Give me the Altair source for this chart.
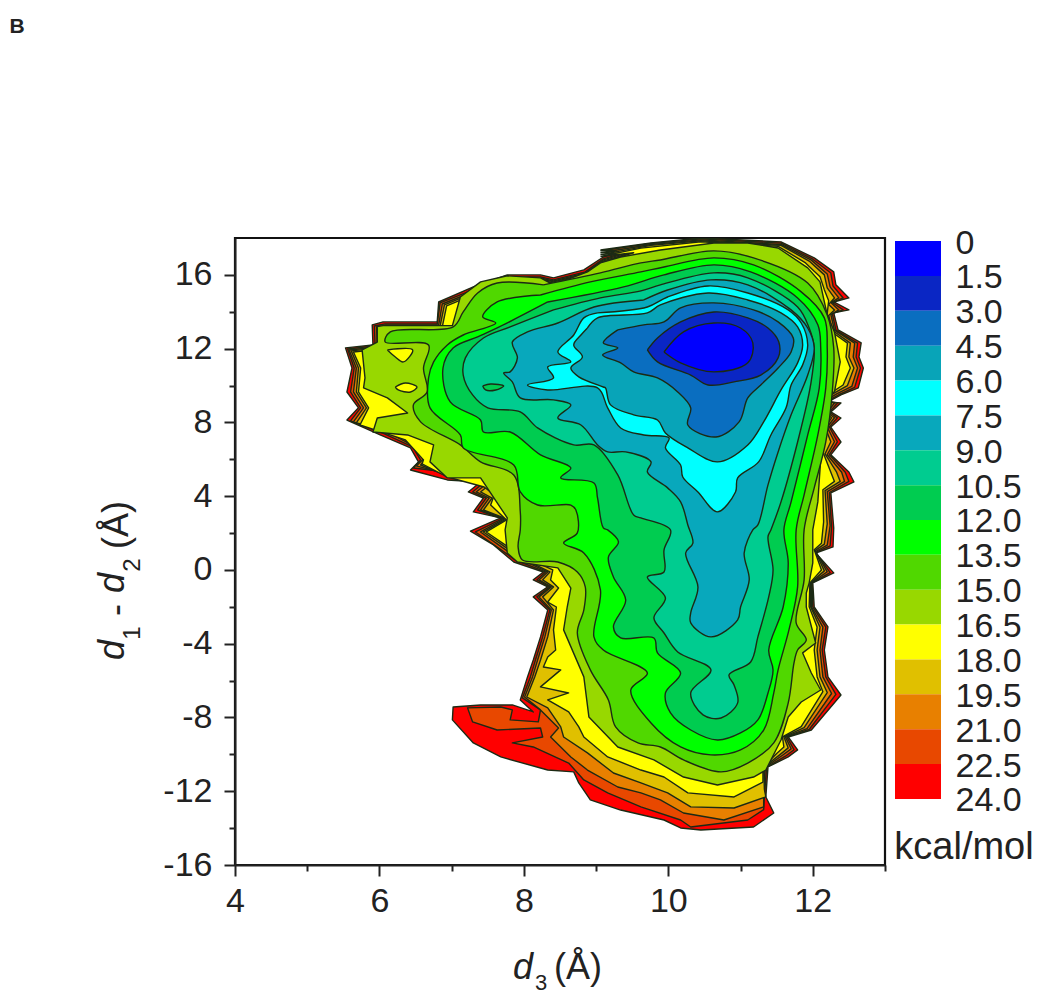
import altair as alt
import pandas as pd

FONT = "Liberation Sans"
INK = "#222222"
LINE = "#1c2a14"

# energy contours: each is the closed outline of the region below that level (d3, d1-d2)
C24 = [(9.06,17.35),(9.76,17.73),(10.45,18.0),(11.56,17.79),(12.02,16.92),(12.29,16.16),(12.32,15.46),(12.50,14.75),(12.29,14.53),(12.50,14.10),(12.29,13.94),(12.35,13.02),(12.67,12.31),(12.64,11.55),(12.70,10.95),(12.63,9.87),(12.39,9.49),(12.21,9.11),(12.39,9.06),(12.25,8.57),(12.39,8.24),(12.25,7.75),(12.39,6.94),(12.25,6.24),(12.50,5.31),(12.57,4.77),(12.25,4.18),(12.29,2.28),(12.28,1.25),(12.04,0.92),(12.29,-0.16),(12.00,-0.70),(12.02,-2.01),(12.21,-3.09),(12.16,-4.34),(12.21,-5.80),(12.39,-6.78),(11.98,-8.68),(11.66,-9.06),(11.79,-9.76),(11.66,-10.14),(11.38,-10.68),(11.35,-12.31),(11.46,-13.18),(11.18,-13.94),(10.45,-14.10),(10.17,-13.99),(9.94,-13.56),(9.34,-13.02),(8.92,-12.47),(8.76,-11.55),(8.69,-10.95),(8.33,-10.85),(7.68,-10.14),(7.30,-9.38),(7.01,-8.13),(7.02,-7.43),(7.40,-7.32),(7.84,-7.32),(8.13,-7.70),(7.95,-7.05),(8.05,-5.80),(8.13,-4.88),(8.23,-3.63),(8.33,-2.17),(8.13,-1.46),(8.33,-0.92),(8.13,-0.54),(8.27,-0.11),(7.86,0.43),(7.58,1.36),(7.26,2.11),(7.68,2.82),(7.30,3.15),(7.44,3.90),(7.23,4.23),(7.40,4.77),(6.94,4.88),(6.43,5.42),(6.54,5.86),(6.43,6.62),(6.01,7.32),(5.55,8.13),(5.71,8.79),(5.55,9.65),(5.62,10.95),(5.53,12.04),(5.91,12.20),(5.90,13.29),(6.05,13.45),(6.80,13.45),(6.82,14.53),(7.30,15.35),(7.77,16.0),(8.23,16.0),(8.41,15.84),(8.83,16.27),(9.10,16.97),(9.52,17.46)]
C22_5 = [(9.06,17.30),(9.76,17.7),(10.45,17.95),(11.56,17.72),(12.0,16.85),(12.25,16.1),(12.28,15.4),(12.42,14.75),(12.27,14.5),(12.42,14.1),(12.27,13.9),(12.32,13.0),(12.62,12.3),(12.60,11.55),(12.66,10.95),(12.58,9.9),(12.36,9.5),(12.2,9.15),(12.34,9.05),(12.23,8.55),(12.34,8.25),(12.23,7.75),(12.34,6.95),(12.23,6.25),(12.45,5.3),(12.5,4.8),(12.23,4.2),(12.26,2.3),(12.24,1.3),(12.04,0.95),(12.24,-0.15),(11.99,-0.7),(12.0,-2.0),(12.18,-3.1),(12.13,-4.34),(12.18,-5.8),(12.32,-6.75),(11.95,-8.65),(11.64,-9.05),(11.74,-9.75),(11.62,-10.1),(11.36,-10.7),(11.33,-12.3),(11.32,-13.0),(11.10,-13.56),(10.31,-13.94),(10.17,-13.56),(9.62,-12.85),(9.16,-12.09),(8.83,-11.39),(8.62,-10.47),(8.13,-9.6),(7.84,-9.38),(8.26,-9.06),(8.23,-8.57),(7.63,-8.68),(7.29,-8.24),(7.22,-7.48),(7.68,-7.43),(7.84,-7.59),(7.81,-8.13),(8.20,-8.24),(8.23,-7.59),(7.98,-6.94),(8.09,-5.8),(8.16,-4.88),(8.26,-3.63),(8.36,-2.17),(8.18,-1.46),(8.36,-0.92),(8.18,-0.54),(8.30,-0.11),(7.88,0.54),(7.61,1.3),(7.33,2.06),(7.70,2.77),(7.36,3.25),(7.48,3.9),(7.29,4.23),(7.44,4.72),(6.94,5.31),(6.47,5.53),(6.57,5.97),(6.46,6.67),(6.04,7.43),(5.60,8.08),(5.74,8.79),(5.60,9.65),(5.65,10.95),(5.56,11.98),(5.94,12.15),(5.93,13.23),(6.08,13.34),(6.80,13.34),(6.84,14.48),(7.33,15.24),(7.77,15.89),(8.23,15.89),(8.41,15.73),(8.85,16.16),(9.10,16.87),(9.52,17.35)]
C21 = [(9.06,17.2),(9.76,17.65),(10.45,17.9),(11.56,17.65),(11.98,16.8),(12.2,16.05),(12.24,15.35),(12.36,14.75),(12.25,14.5),(12.36,14.1),(12.25,13.85),(12.3,13.0),(12.58,12.3),(12.56,11.55),(12.62,10.95),(12.54,9.95),(12.33,9.55),(12.18,9.2),(12.3,9.05),(12.2,8.55),(12.3,8.25),(12.2,7.75),(12.3,6.95),(12.2,6.25),(12.4,5.3),(12.44,4.8),(12.2,4.25),(12.24,2.4),(12.2,1.35),(12.04,1.0),(12.2,-0.1),(11.98,-0.7),(11.98,-2.0),(12.14,-3.1),(12.1,-4.34),(12.14,-5.8),(12.26,-6.7),(11.92,-8.6),(11.62,-9.05),(11.7,-9.7),(11.58,-10.05),(11.34,-10.7),(11.32,-12.2),(11.32,-12.85),(10.77,-13.56),(10.21,-13.18),(9.89,-12.47),(9.62,-12.09),(9.30,-11.77),(8.88,-10.85),(8.65,-10.14),(8.37,-9.06),(8.48,-8.57),(8.23,-7.59),(8.01,-6.89),(8.12,-5.8),(8.19,-4.88),(8.29,-3.63),(8.38,-2.17),(8.21,-1.46),(8.38,-0.92),(8.21,-0.54),(8.33,-0.11),(7.91,0.65),(7.65,1.36),(7.40,2.06),(7.73,2.77),(7.40,3.25),(7.52,3.9),(7.34,4.23),(7.48,4.66),(6.94,5.2),(6.51,5.64),(6.61,6.02),(6.48,6.72),(6.08,7.54),(5.64,8.03),(5.78,8.79),(5.64,9.65),(5.68,10.95),(5.58,11.93),(5.97,12.09),(5.96,13.18),(6.11,13.29),(6.82,13.29),(6.87,14.42),(7.36,15.18),(7.77,15.84),(8.23,15.84),(8.41,15.67),(8.85,16.11),(9.10,16.81),(9.52,17.3)]
C19_5 = [(9.06,17.1),(9.76,17.6),(10.45,17.85),(11.56,17.6),(11.95,16.75),(12.16,16.0),(12.2,15.3),(12.3,14.75),(12.22,14.4),(12.3,14.1),(12.22,13.8),(12.27,13.0),(12.52,12.3),(12.5,11.55),(12.57,10.95),(12.48,10.0),(12.3,9.6),(12.16,9.25),(12.26,9.05),(12.16,8.55),(12.26,8.25),(12.17,7.75),(12.25,6.95),(12.17,6.3),(12.33,5.3),(12.38,4.8),(12.17,4.3),(12.2,2.5),(12.16,1.4),(12.03,1.05),(12.16,-0.05),(11.97,-0.7),(11.97,-2.0),(12.1,-3.1),(12.06,-4.34),(12.1,-5.8),(12.2,-6.65),(11.88,-8.55),(11.6,-9.05),(11.66,-9.65),(11.55,-10.0),(11.32,-10.7),(11.33,-11.9),(11.35,-12.31),(10.91,-12.91),(10.31,-12.85),(9.99,-12.09),(9.62,-11.55),(9.24,-11.01),(8.88,-9.92),(8.55,-9.06),(8.51,-8.51),(8.33,-7.48),(8.04,-6.89),(8.15,-5.8),(8.23,-4.88),(8.33,-3.63),(8.41,-2.17),(8.26,-1.46),(8.41,-0.92),(8.26,-0.54),(8.36,-0.11),(7.94,0.7),(7.68,1.41),(7.44,2.06),(7.76,2.77),(7.44,3.25),(7.56,3.9),(7.40,4.23),(7.52,4.61),(6.94,5.1),(6.57,5.69),(6.65,6.07),(6.51,6.78),(6.12,7.59),(5.68,7.97),(5.82,8.79),(5.68,9.65),(5.71,10.95),(5.61,11.88),(6.0,12.04),(5.98,13.12),(6.14,13.23),(6.84,13.23),(6.90,14.37),(7.37,15.13),(7.77,15.78),(8.23,15.78),(8.41,15.62),(8.85,16.05),(9.10,16.76),(9.52,17.24)]
C18 = [(9.06,17.0),(9.62,17.45),(10.45,17.8),(11.52,17.55),(11.9,16.65),(12.1,15.9),(12.16,15.2),(12.22,14.6),(12.2,13.9),(12.23,13.0),(12.48,12.3),(12.46,11.55),(12.52,10.95),(12.42,10.03),(12.27,9.65),(12.14,9.3),(12.14,8.3),(12.14,7.3),(12.14,6.4),(12.25,5.3),(12.3,4.8),(12.14,4.35),(12.15,2.6),(12.12,1.45),(12.02,1.1),(12.12,0.0),(11.96,-0.7),(11.95,-2.0),(12.06,-3.1),(12.02,-4.34),(12.06,-5.8),(12.14,-6.6),(11.84,-8.5),(11.58,-9.05),(11.6,-9.6),(11.5,-9.95),(11.31,-10.7),(11.31,-11.5),(10.91,-12.31),(10.27,-12.09),(9.94,-11.23),(9.62,-10.85),(9.16,-10.14),(8.83,-9.06),(8.76,-8.51),(8.62,-7.7),(8.33,-7.05),(8.62,-6.67),(8.23,-6.34),(8.51,-5.42),(8.27,-5.26),(8.33,-4.72),(8.44,-4.34),(8.41,-3.25),(8.45,-2.01),(8.33,-1.74),(8.48,-0.98),(8.37,-0.54),(8.40,0),(7.98,0.76),(7.72,1.41),(7.48,2.06),(7.76,2.71),(7.54,3.52),(7.59,4.07),(7.45,4.5),(6.94,5.04),(6.59,5.75),(6.61,5.97),(6.36,7.05),(5.73,7.86),(5.85,8.79),(5.71,9.65),(5.74,10.95),(5.64,11.82),(6.02,11.98),(6.01,13.07),(6.16,13.18),(6.87,13.18),(6.93,14.32),(7.40,15.08),(7.77,15.73),(8.23,15.73),(8.41,15.56),(8.85,16.0),(9.10,16.7),(9.52,17.2)]
C16_5 = [(9.06,16.65),(9.34,16.97),(9.89,17.35),(10.63,17.73),(11.10,17.73),(11.52,17.46),(11.93,16.38),(12.10,15.62),(12.20,13.83),(12.30,12.91),(12.38,11.28),(12.30,9.65),(12.12,9.33),(12.12,6.62),(12.07,3.69),(12.00,2.17),(12.00,0.38),(11.95,-0.70),(11.91,-1.25),(11.91,-2.01),(12.04,-3.96),(11.86,-4.50),(11.98,-5.59),(12.11,-6.51),(11.84,-7.16),(11.66,-7.97),(11.56,-9.22),(11.35,-10.85),(11.18,-11.23),(10.68,-11.66),(10.21,-11.23),(9.80,-10.30),(9.30,-9.60),(8.90,-7.97),(8.83,-5.80),(8.55,-3.25),(8.60,-2.01),(8.65,-0.98),(8.47,0.11),(7.91,0.43),(7.77,0.92),(7.74,2.17),(7.77,2.82),(7.40,4.99),(6.94,4.99),(6.70,5.86),(6.75,6.78),(6.39,7.32),(5.91,7.48),(5.97,8.24),(6.39,8.51),(6.11,9.33),(5.78,9.87),(5.80,10.41),(5.76,11.93),(5.97,12.36),(5.97,13.2),(6.05,13.25),(7.01,13.25),(7.12,14.80),(7.40,15.62),(7.77,15.95),(8.23,15.84),(8.41,15.46),(8.88,16.16)]
C15 = [(8.27,15.46),(9.06,16.11),(9.62,16.65),(9.89,16.81),(10.63,17.30),(11.18,16.92),(11.93,15.56),(12.20,13.83),(12.29,12.04),(12.27,9.65),(12.18,6.94),(12.02,4.45),(11.88,2.17),(11.88,-0.54),(11.77,-2.87),(11.91,-3.80),(11.79,-4.34),(11.74,-5.04),(11.66,-7.21),(11.46,-9.38),(11.10,-10.47),(10.73,-10.95),(10.21,-10.30),(9.89,-9.60),(9.58,-9.38),(9.27,-8.51),(9.17,-7.05),(8.92,-5.42),(8.74,-3.42),(8.83,-2.17),(8.85,-0.92),(8.74,-0.11),(8.47,0.43),(7.98,0.54),(7.92,1.25),(7.95,2.17),(7.95,3.15),(7.86,5.15),(7.40,5.86),(7.12,6.78),(6.57,8.03),(6.47,8.95),(6.66,9.65),(6.61,10.95),(6.68,12.20),(6.08,12.36),(6.15,12.91),(7.02,13.18),(7.16,13.99),(7.36,15.02),(7.63,15.56)]
C13_5 = [(8.23,14.91),(8.92,15.62),(9.62,16.16),(9.94,16.43),(10.63,16.92),(11.18,16.54),(11.84,15.08),(12.16,13.67),(12.20,12.04),(12.18,9.87),(12.07,7.32),(11.88,4.07),(11.77,2.17),(11.79,-0.92),(11.67,-3.25),(11.52,-5.42),(11.46,-6.67),(11.32,-8.68),(11.00,-9.76),(10.59,-10.03),(10.17,-9.60),(9.76,-8.30),(9.48,-6.51),(9.71,-5.59),(9.10,-4.34),(8.97,-3.63),(9.06,-1.08),(8.83,0.92),(8.55,1.46),(8.74,2.01),(8.72,3.25),(8.65,3.52),(8.19,3.52),(7.95,4.23),(7.86,5.69),(7.16,6.62),(7.12,7.32),(6.70,8.79),(6.68,10.41),(6.75,11.28),(6.94,12.20),(7.16,12.74),(7.61,13.39),(7.43,13.72),(7.63,14.53)]
C12 = [(8.33,14.53),(9.38,15.35),(9.94,16.0),(10.63,16.54),(11.14,16.16),(11.79,14.75),(12.07,13.29),(12.11,12.04),(12.09,9.87),(11.93,7.32),(11.70,3.69),(11.60,2.17),(11.66,0.38),(11.59,-2.01),(11.39,-4.34),(11.45,-5.42),(11.38,-6.67),(11.24,-8.13),(11.00,-8.84),(10.68,-9.22),(10.31,-8.68),(10.03,-7.75),(9.96,-6.67),(10.17,-5.59),(9.85,-4.50),(9.80,-3.69),(9.34,-3.69),(9.24,-3.09),(9.41,-1.63),(9.24,-0.38),(9.17,0.70),(9.31,1.52),(9.16,2.17),(9.10,2.28),(9.02,3.90),(8.97,4.72),(8.51,4.99),(8.65,5.53),(8.23,6.24),(7.81,7.48),(7.44,7.48),(7.40,8.13),(6.98,9.11),(6.88,10.95),(7.02,12.04),(7.36,12.64),(7.63,13.12)]
C10_5 = [(8.41,14.10),(9.06,14.75),(9.62,15.13),(9.89,15.46),(10.63,16.11),(11.10,15.84),(11.79,14.26),(11.95,13.12),(12.02,12.04),(11.97,10.03),(11.79,6.94),(11.56,3.69),(11.42,2.17),(11.38,1.79),(11.45,0),(11.39,-1.46),(11.24,-3.63),(11.14,-4.99),(10.84,-5.69),(10.91,-6.24),(10.96,-7.21),(10.73,-8.03),(10.48,-7.86),(10.31,-6.67),(10.59,-5.42),(10.13,-4.45),(9.94,-3.42),(9.80,-2.60),(9.96,-1.52),(9.71,-0.38),(9.94,-0.11),(9.94,1.08),(10.03,2.17),(9.62,2.82),(9.52,2.98),(9.30,5.15),(8.97,6.78),(8.69,6.78),(8.19,7.70),(7.95,8.57),(7.50,8.79),(7.29,9.49),(7.16,10.57),(7.19,11.50),(7.44,12.58),(7.81,13.18)]
C9 = [(9.66,14.64),(9.99,15.18),(10.59,15.73),(11.10,15.46),(11.70,14.10),(11.93,13.12),(12.02,12.04),(11.93,10.57),(11.70,8.41),(11.52,6.40),(11.38,4.61),(11.24,2.44),(11.17,2.17),(11.05,0.92),(11.12,-0.54),(11.00,-2.01),(10.96,-2.71),(10.59,-3.63),(10.31,-2.87),(10.31,-2.33),(10.41,-0.92),(10.24,0.92),(10.34,1.46),(10.27,2.44),(10.17,3.69),(9.99,4.45),(9.71,5.31),(9.76,5.86),(9.41,6.40),(9.16,6.40),(9.02,6.78),(8.79,7.86),(8.47,8.24),(8.65,8.95),(8.41,9.22),(7.95,9.33),(7.84,10.20),(7.72,10.68),(7.81,10.74),(7.91,11.50),(7.84,12.36),(8.05,12.91),(8.47,13.39),(8.97,14.26)]
C7_5 = [(9.02,13.94),(9.71,14.26),(9.99,14.80),(10.55,15.40),(11.10,15.02),(11.66,14.10),(11.84,13.39),(11.93,12.20),(11.86,11.12),(11.70,10.03),(11.63,8.79),(11.42,7.32),(11.25,5.86),(10.96,4.99),(10.93,4.23),(10.68,3.15),(10.41,4.23),(10.20,5.04),(10.17,5.69),(9.96,6.62),(10.01,7.16),(9.66,7.32),(9.34,7.70),(9.16,8.79),(9.02,9.87),(8.33,9.76),(8.05,10.03),(8.41,10.41),(8.33,11.01),(8.65,11.28),(8.47,11.82),(8.69,12.74),(8.83,13.67)]
C6 = [(8.88,13.12),(9.02,13.67),(9.71,13.94),(9.89,14.37),(10.55,15.02),(11.10,14.64),(11.56,13.94),(11.79,13.18),(11.86,12.20),(11.79,11.23),(11.56,9.76),(11.32,8.03),(11.10,6.78),(10.68,5.86),(10.27,6.62),(9.96,7.43),(9.85,8.13),(9.52,8.41),(9.20,8.95),(9.13,9.87),(9.10,9.92),(8.76,10.47),(8.65,10.95),(8.81,11.55),(8.69,12.20),(8.79,12.74)]
C4_5 = [(9.30,13.02),(9.66,13.29),(9.94,13.45),(10.17,14.21),(10.63,14.48),(11.18,14.10),(11.52,13.45),(11.73,12.58),(11.70,11.82),(11.52,10.95),(11.28,10.03),(11.10,9.33),(10.98,8.03),(10.66,7.21),(10.27,7.86),(10.31,8.79),(10.13,9.65),(9.85,10.41),(9.52,10.74),(9.34,11.23),(9.09,11.66),(9.30,12.04),(9.10,12.31)]
C3 = [(9.71,11.93),(9.85,12.58),(10.17,13.45),(10.63,13.99),(11.10,13.67),(11.38,13.12),(11.53,12.36),(11.52,11.50),(11.28,10.57),(10.91,10.20),(10.55,10.03),(10.31,10.57),(9.85,11.28)]
C1_5 = [(9.94,11.82),(10.21,12.91),(10.63,13.39),(11.0,13.12),(11.17,12.31),(11.10,11.23),(10.63,10.74),(10.17,11.23)]

# small closed islands inside the bands
ISLAND_A = [(6.11,11.93),(6.46,11.93),(6.33,11.28),(6.22,11.55)]
ISLAND_B = [(6.22,9.92),(6.36,10.14),(6.52,9.92),(6.43,9.65),(6.26,9.76)]
ISLAND_C = [(7.43,9.98),(7.54,10.08),(7.72,9.98),(7.61,9.76),(7.47,9.76)]

LEVELS = [0, 1.5, 3, 4.5, 6, 7.5, 9, 10.5, 12, 13.5, 15, 16.5, 18, 19.5, 21, 22.5, 24]
BAND_COLORS = ["#0000ff", "#0a26c4", "#0a6ec0", "#08a4b8", "#00ffff", "#08a8bc", "#00cc90", "#00cc50",
               "#00ff00", "#50d800", "#98d800", "#ffff00", "#e0c000", "#e88000", "#e84800", "#ff0000"]

# (outline, band colour, smooth the outline?)
CONTOURS = [(C24, 15, False), (C22_5, 14, False), (C21, 13, False), (C19_5, 12, False), (C18, 11, False), (C16_5, 10, False),
            (ISLAND_A, 11, True), (ISLAND_B, 11, True), (C15, 9, True), (C13_5, 8, True), (C12, 7, True), (C10_5, 6, True),
            (ISLAND_C, 7, True), (C9, 5, True), (C7_5, 4, True), (C6, 3, True), (C4_5, 2, True), (C3, 1, True), (C1_5, 0, True)]

x_scale = alt.Scale(domain=[4, 13], nice=False, zero=False)
y_scale = alt.Scale(domain=[-16, 18], nice=False, zero=False)
legend_scale = alt.Scale(domain=[-0.13, 26.84], nice=False, zero=False, reverse=True)

x_axis = alt.Axis(values=list(range(4, 14)), title=None, grid=False, labelFont=FONT, labelFontSize=34, labelColor=INK,
                  labelExpr="datum.value % 2 === 0 && datum.value < 13 ? datum.label : ''", labelPadding=8, labelFlush=False,
                  tickSize={"condition": {"test": "datum.value % 2 === 0", "value": 11}, "value": 6},
                  tickWidth=2, tickColor=INK, domainColor=INK, domainWidth=2, labelOverlap=False)
y_axis = alt.Axis(values=list(range(-16, 18, 2)), title=None, grid=False, labelFont=FONT, labelFontSize=34, labelColor=INK,
                  labelExpr="datum.value % 4 === 0 ? replace(datum.label, '\u2212', '-') : ''", labelPadding=12, labelFlush=False,
                  tickSize={"condition": {"test": "datum.value % 4 === 0", "value": 11}, "value": 6},
                  tickWidth=2, tickColor=INK, domainColor=INK, domainWidth=2, labelOverlap=False)


def polygon(points, colour, smooth):
    closed = list(points) + [points[0]]
    df = pd.DataFrame({"d3": [p[0] for p in closed], "dd": [p[1] for p in closed], "i": list(range(len(closed)))})
    return alt.Chart(df).mark_line(fill=colour, stroke=LINE, strokeWidth=1.4, clip=True, strokeJoin="round",
                                   interpolate="catmull-rom" if smooth else "linear").encode(
        x=alt.X("d3:Q", scale=x_scale, axis=x_axis),
        y=alt.Y("dd:Q", scale=y_scale, axis=y_axis),
        order=alt.Order("i:Q"),
    )


map_layer = alt.layer(*[polygon(pts, BAND_COLORS[c], s) for pts, c, s in CONTOURS])

bands = pd.DataFrame({"lo": LEVELS[:-1], "hi": LEVELS[1:], "colour": BAND_COLORS})
legend_axis = alt.Axis(orient="right", values=LEVELS, title=None, grid=False, domain=False, ticks=False, labelFont=FONT,
                       labelFontSize=34, labelColor=INK, labelPadding=70, labelFlush=False, labelOverlap=False, labelOffset=2,
                       labelExpr="datum.value === 0 ? '0' : format(datum.value, '.1f')")
legend_layer = alt.Chart(bands).mark_rect().encode(
    x=alt.value(660), x2=alt.value(706),
    y=alt.Y("lo:Q", scale=legend_scale, axis=legend_axis),
    y2="hi:Q",
    color=alt.Color("colour:N", scale=None),
)

anchor = pd.DataFrame({"a": [0]})


def label(text, px, py, size=36, angle=0, style="normal", weight="normal"):
    return alt.Chart(anchor).mark_text(text=text, font=FONT, fontSize=size, color=INK, angle=angle, fontStyle=style,
                                       fontWeight=weight, align="center", baseline="middle").encode(
        x=alt.value(px), y=alt.value(py))


notes = [
    label("B", -218, -211, size=21, weight="bold"),
    label("kcal/mol", 729, 610, size=38),
    label("d", 288, 730, style="italic"),
    label("3", 306, 745, size=22),
    label("(Å)", 343, 730),
    label("d", -122, 412, angle=270, style="italic"),
    label("1", -102, 395, size=24, angle=270),
    label("-", -118, 372, angle=270),
    label("d", -122, 345, angle=270, style="italic"),
    label("2", -102, 327, size=24, angle=270),
    label("(Å)", -118, 287, angle=270),
]

chart = alt.layer(map_layer, legend_layer, *notes).resolve_scale(y="independent").properties(
    width=650, height=627,
    background="white",
    autosize=alt.AutoSizeParams(type="none"),
    padding={"left": 227, "top": 230, "right": 155, "bottom": 129},
).configure_view(stroke="#111111", strokeWidth=2.2)

chart.save("out.html", embed_options={"renderer": "svg", "actions": False})
